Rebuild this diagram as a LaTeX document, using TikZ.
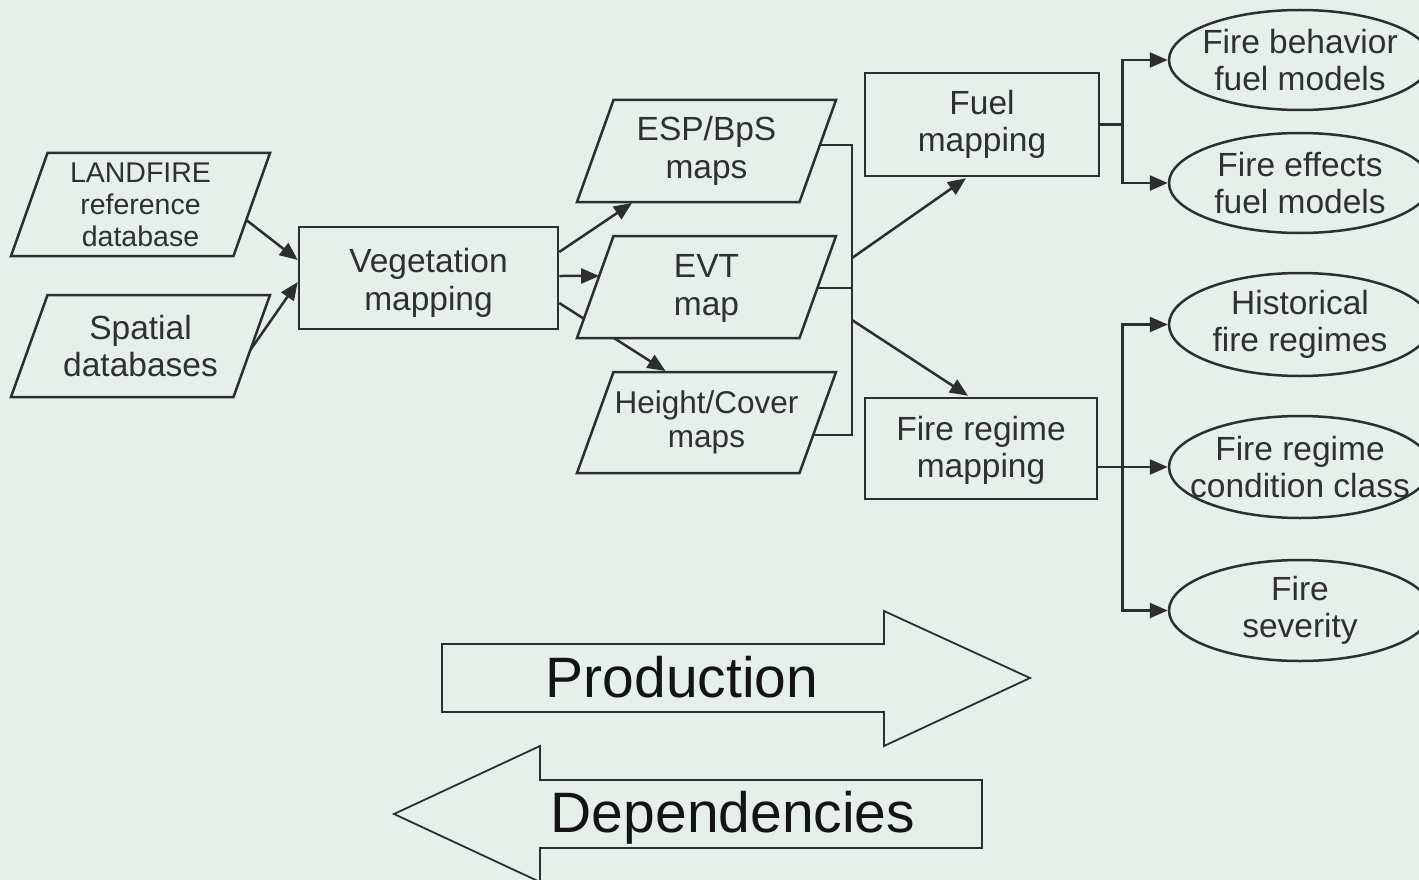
\documentclass[tikz,border=0pt]{standalone}
\usepackage{fontspec}
\setmainfont{Liberation Sans}
\usetikzlibrary{shapes.geometric,arrows.meta,calc}
\definecolor{bgc}{HTML}{E6EFE9}
\definecolor{ln}{HTML}{2E2E2E}
\definecolor{tx}{HTML}{303030}
\pgfdeclarelayer{bglayer}
\pgfdeclarelayer{lines}
\pgfsetlayers{bglayer,lines,main}
% parallelogram: name, cx, cy, height
\newcommand\Pgram[4]{%
 \coordinate (#1-tl) at ({#2-93},{#3-#4/2});
 \coordinate (#1-tr) at ({#2+129.5},{#3-#4/2});
 \coordinate (#1-br) at ({#2+93},{#3+#4/2});
 \coordinate (#1-bl) at ({#2-129.5},{#3+#4/2});
 \draw[pshape] (#1-tl) -- (#1-tr) -- (#1-br) -- (#1-bl) -- cycle;}
\begin{document}
\begin{tikzpicture}[x=1pt,y=-1pt,
 every node/.style={text=tx, align=center, font=\fontsize{33.5}{37.5}\selectfont},
 pshape/.style={draw=ln, line width=2.5pt, fill=bgc},
 box/.style={rectangle, draw=ln, line width=2.5pt, fill=bgc, inner sep=0pt},
 ell/.style={ellipse, draw=ln, line width=2.5pt, fill=bgc, minimum width=262pt, minimum height=100pt, inner sep=0pt},
 lbl/.style={inner sep=0pt},
 conn/.style={draw=ln, line width=2.5pt},
 arr/.style={conn, -{Triangle[length=18pt,width=15pt]}},
 big/.style={draw=ln, line width=1.8pt, fill=bgc},
 bigtext/.style={text=black!92, font=\fontsize{57}{60}\selectfont}]
\useasboundingbox (0,0) rectangle (1419,880);
\begin{pgfonlayer}{bglayer}
\fill[bgc] (0,0) rectangle (1419,880);
\end{pgfonlayer}

% parallelogram nodes
\Pgram{land}{140.5}{204.5}{103}
\node[lbl, font=\fontsize{28.5}{32}\selectfont] (land) at (140.5,204.5) {LANDFIRE\\reference\\database};
\Pgram{sp}{140.5}{346}{102}
\node[lbl] (sp) at (140.5,346) {Spatial\\databases};
\Pgram{esp}{706.5}{151}{102}
\node[lbl] (esp) at (706.5,151) {ESP/BpS\\maps};
\Pgram{evt}{706.5}{287}{102}
\node[lbl] (evt) at (706.5,288.5) {EVT\\map};
\Pgram{hc}{706.5}{422.5}{101}
\node[lbl, font=\fontsize{31.5}{34}\selectfont] (hc) at (706.5,422.5) {Height/Cover\\maps};

% boxes
\node[box, minimum width=259pt, minimum height=102pt] (veg) at (428.5,278) {};
\node[lbl] (vegt) at ($(veg)+(0,5)$) {Vegetation\\mapping};
\node[box, minimum width=234pt, minimum height=103pt] (fuel) at (982,124.5) {Fuel\\mapping};
\node[box, minimum width=232pt, minimum height=101pt] (fr) at (981,448.5) {};
\node[lbl] (frt) at ($(fr)+(0,2)$) {Fire regime\\mapping};

% ellipses
\node[ell] (fb) at (1300,60) {};
\node[lbl] (fbt) at (fb) {Fire behavior\\fuel models};
\node[ell] (fe) at (1300,183) {};
\node[lbl] (fet) at (fe) {Fire effects\\fuel models};
\node[ell, minimum height=103pt] (hf) at (1300,324.5) {};
\node[lbl] (hft) at (hf) {Historical\\fire regimes};
\node[ell, minimum height=102pt] (cc) at (1300,467) {};
\node[lbl] (cct) at (cc) {Fire regime\\condition class};
\node[ell, minimum height=101pt] (fs) at (1300,610.5) {};
\node[lbl] (fst) at (fs) {Fire\\severity};

% helper points
\coordinate (busx) at (852,0);
\coordinate (pe) at ($(esp-tr)!0.441!(esp-br)$);
\coordinate (pv) at ($(evt-tr)!0.51!(evt-br)$);
\coordinate (ph) at ($(hc-tr)!0.624!(hc-br)$);
\coordinate (ba) at (852,258);
\coordinate (bb) at (852,320);
\coordinate (fj) at ($(fuel.east)+(22,0)$);

\begin{pgfonlayer}{lines}
\draw[arr] ($(land-tr)!0.65!(land-br)$) -- ($(veg.west)+(0,-18)$);
\draw[arr] ($(sp-tr)!0.54!(sp-br)$) -- ($(veg.west)+(0,4)$);
\draw[arr] ($(veg.east)+(0,-26)$) -- ($(esp-bl)+(55,1)$);
\draw[arr] ($(veg.east)+(0,-2)$) -- ($(evt-tl)!0.392!(evt-bl)$);
\draw[arr] ($(veg.east)+(0,25)$) -- ($(hc-tl)+(52,-1)$);
\draw[conn] (pe) -- (pe -| busx) -- (ph -| busx) -- (ph);
\draw[conn] (pv) -- (pv -| busx);
\draw[arr] (ba) -- ($(fuel.south)+(-16,1)$);
\draw[arr] (bb) -- ($(fr.north)+(-13,-1)$);
\draw[conn] (fuel.east) -- (fj);
\draw[arr] (fj) |- (fb.west);
\draw[arr] (fj) |- (fe.west);
\draw[arr] (cc.west -| fr.east) -- (cc.west);
\draw[arr] (cc.west -| fj) |- (hf.west);
\draw[arr] (cc.west -| fj) |- (fs.west);
\end{pgfonlayer}

% big arrows
\draw[big] (442,644) -- (884,644) -- (884,611) -- (1030,678) -- (884,746) -- (884,712) -- (442,712) -- cycle;
\node[bigtext] (prod) at (682,677) {Production};
\draw[big] (982,780) -- (540,780) -- (540,746) -- (394,814) -- (540,882) -- (540,848) -- (982,848) -- cycle;
\node[bigtext] (dep) at (733,818) {Dependencies};
\end{tikzpicture}
\end{document}
